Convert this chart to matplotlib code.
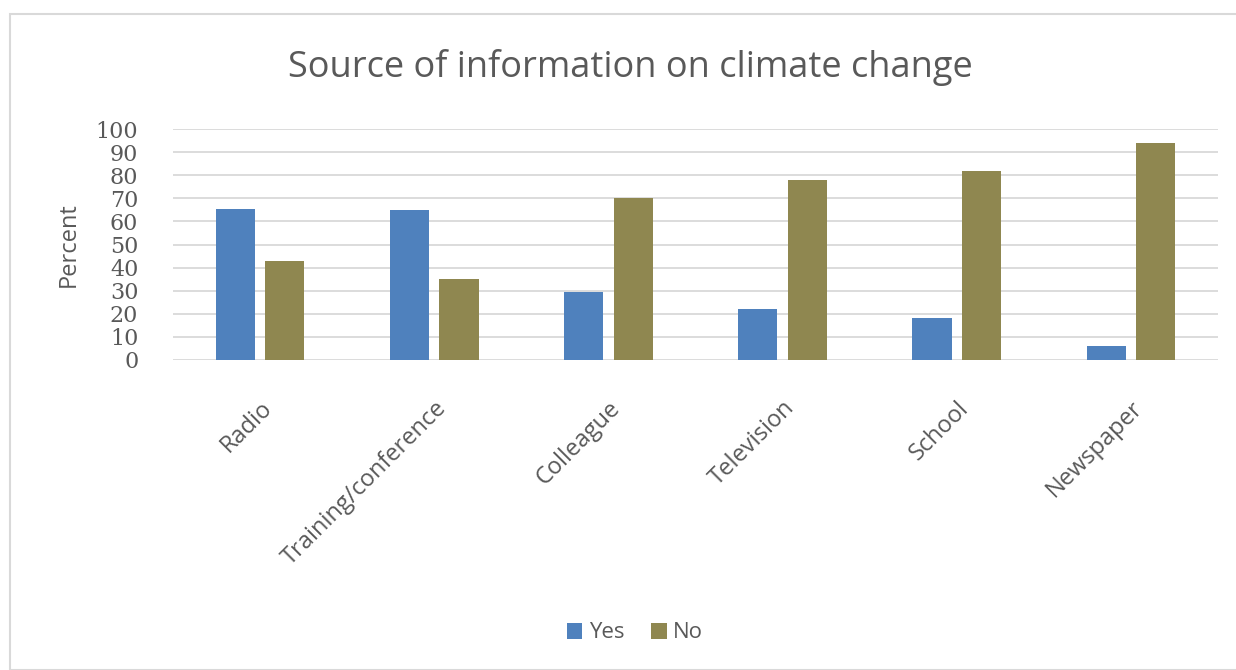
import matplotlib
matplotlib.use("Agg")
import matplotlib.pyplot as plt
import numpy as np
from matplotlib.patches import Rectangle

categories = ["Radio", "Training/conference", "Colleague", "Television", "School", "Newspaper"]
yes_values = [65.5, 65, 29.5, 22, 18, 6]
no_values = [43, 35, 70, 78, 82, 94]
yticks = list(range(0, 101, 10))

plt.rcParams['font.family'] = ['Open Sans', 'DejaVu Sans']
txt = '#595959'

fig = plt.figure(figsize=(12.36, 6.70), dpi=100)
fig.patches.append(Rectangle((10/1236, 0), 1 - 10/1236 + 0.01, 1 - 14/670, transform=fig.transFigure,
                             fill=False, edgecolor='#d9d9d9', linewidth=1.5))
ax = fig.add_axes([173/1236, 1 - 360/670, (1218 - 173)/1236, 231/670])

x = np.arange(len(categories))
w = 0.225
off = 0.142
ax.bar(x - off, yes_values, w, color='#4f81bd', label='Yes', zorder=3)
ax.bar(x + off, no_values, w, color='#8f8750', label='No', zorder=3)

ax.set_xlim(-0.5, len(categories) - 0.5)
ax.set_ylim(0, 100)
ax.set_yticks(yticks)
ax.set_yticklabels([str(v) for v in yticks], fontsize=16, color=txt,
                   family=['DejaVu Serif'])
ax.yaxis.grid(True, color='#d9d9d9', linewidth=1.3, zorder=0)
ax.set_axisbelow(True)
for s in ax.spines.values():
    s.set_visible(False)
ax.tick_params(axis='both', length=0)
ax.tick_params(axis='y', pad=25)
ax.set_xticks(x)
ax.set_xticklabels(categories, rotation=45, ha='right', va='top', rotation_mode='anchor',
                   fontsize=17, color=txt)
ax.tick_params(axis='x', pad=26)
ax.set_ylabel('Percent', fontsize=17, color=txt, labelpad=11)

fig.text(630/1236, 1 - 67/670, 'Source of information on climate change', ha='center', va='center',
         fontsize=26, color=txt)

leg = fig.legend(loc='center', bbox_to_anchor=(635/1236, 1 - 633/670), ncol=2, frameon=False,
                 fontsize=16, handlelength=0.7, handleheight=0.7, handletextpad=0.3, columnspacing=1.2)
for t in leg.get_texts():
    t.set_color(txt)

fig.savefig('out.png', dpi=100)
